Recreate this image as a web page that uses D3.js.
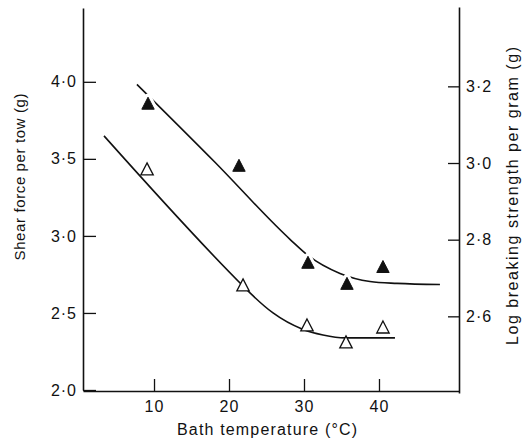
<!DOCTYPE html>
<html>
<head>
<meta charset="utf-8">
<script src="https://cdn.jsdelivr.net/npm/d3@7"></script>
<style>
  html, body { margin: 0; padding: 0; background: #fff; }
  svg { display: block; }
  text { font-family: "Liberation Sans", Arial, sans-serif; fill: #111; }
</style>
</head>
<body>
<svg id="chart" width="522" height="447"></svg>
<script>
// ---- data ----
const xTicks = [10, 20, 30, 40];
const leftTicks = [2.0, 2.5, 3.0, 3.5, 4.0];
const rightTicks = [2.6, 2.8, 3.0, 3.2];

// filled triangles (log breaking strength, right axis)
const filledX = [9.2, 21.33, 30.53, 35.73, 40.53];
const filledY = [3.156, 2.994, 2.741, 2.686, 2.730];

// open triangles (shear force, left axis)
const openX = [9.07, 21.87, 30.4, 35.6, 40.53];
const openY = [3.435, 2.682, 2.422, 2.312, 2.409];

// fitted curve for filled triangles (right axis)
const upperCurveX = [7.73, 18.13, 28.13, 30.53, 34.8, 38.8, 42.4, 48.13];
const upperCurveY = [3.205, 3.002, 2.801, 2.759, 2.712, 2.691, 2.686, 2.683];

// fitted curve for open triangles (left axis)
const lowerCurveX = [3.33, 21.87, 22.8, 25.87, 29.73, 32.53, 35.47, 42.13];
const lowerCurveY = [3.649, 2.675, 2.630, 2.500, 2.396, 2.357, 2.338, 2.338];

const xTitle = "Bath temperature (°C)";
const leftTitle = "Shear force per tow (g)";
const rightTitle = "Log breaking strength per gram (g)";

// ---- scales ----
const svg = d3.select("#chart");
const x = d3.scaleLinear().domain([0.53, 50.67]).range([83, 459]);
const yL = d3.scaleLinear().domain([2.0, 4.479]).range([390, 8]);
const yR = d3.scaleLinear().domain([2.4, 3.407]).range([393, 7]);

const fmt = v => d3.format(".1f")(v).replace(".", "·");

// ---- axes ----
const axL = svg.append("g").attr("transform", "translate(83,0)")
  .call(d3.axisLeft(yL).tickValues(leftTicks).tickFormat(fmt)
    .tickSizeInner(-13).tickSizeOuter(0).tickPadding(6));
const axR = svg.append("g").attr("transform", "translate(459,0)")
  .call(d3.axisRight(yR).tickValues(rightTicks).tickFormat(fmt)
    .tickSizeInner(-11).tickSizeOuter(0).tickPadding(7));
const axB = svg.append("g").attr("transform", "translate(0,391)")
  .call(d3.axisBottom(x).tickValues(xTicks).tickFormat(d3.format("d"))
    .tickSizeInner(-12).tickSizeOuter(0).tickPadding(10));

[axL, axR, axB].forEach(g => {
  g.select(".domain").attr("stroke", "#111").attr("stroke-width", 1.6);
  g.selectAll(".tick line").attr("stroke", "#111").attr("stroke-width", 1.3);
  g.selectAll(".tick text").attr("font-size", 16).attr("fill", "#111")
    .attr("font-family", "Liberation Sans, Arial, sans-serif")
    .attr("letter-spacing", 1);
});

// ---- titles ----
svg.append("text").attr("x", 267).attr("y", 435).attr("text-anchor", "middle")
  .attr("font-size", 16).attr("textLength", 180).text(xTitle);
svg.append("text").attr("transform", "translate(25,177) rotate(-90)")
  .attr("text-anchor", "middle").attr("font-size", 15).attr("textLength", 167)
  .text(leftTitle);
svg.append("text").attr("transform", "translate(518,196) rotate(-90)")
  .attr("text-anchor", "middle").attr("font-size", 16).attr("textLength", 298)
  .text(rightTitle);

// ---- curves ----
const lineR = d3.line().x(d => x(d[0])).y(d => yR(d[1])).curve(d3.curveMonotoneX);
const lineL = d3.line().x(d => x(d[0])).y(d => yL(d[1])).curve(d3.curveMonotoneX);
svg.append("path").attr("d", lineR(d3.zip(upperCurveX, upperCurveY)))
  .attr("fill", "none").attr("stroke", "#111").attr("stroke-width", 1.6);
svg.append("path").attr("d", lineL(d3.zip(lowerCurveX, lowerCurveY)))
  .attr("fill", "none").attr("stroke", "#111").attr("stroke-width", 1.6);

// ---- markers ----
const tri = "M0,-6L6.2,6L-6.2,6Z";
const filled = d3.zip(filledX, filledY);
svg.append("g").selectAll("path.halo").data(filled).join("path")
  .attr("class", "halo").attr("d", tri)
  .attr("transform", d => `translate(${x(d[0])},${yR(d[1])})`)
  .attr("fill", "#fff").attr("stroke", "#fff").attr("stroke-width", 7)
  .attr("stroke-linejoin", "round");
svg.append("g").selectAll("path").data(filled).join("path")
  .attr("d", tri)
  .attr("transform", d => `translate(${x(d[0])},${yR(d[1])})`)
  .attr("fill", "#111").attr("stroke", "#111").attr("stroke-width", 1);
svg.append("g").selectAll("path").data(d3.zip(openX, openY)).join("path")
  .attr("d", tri)
  .attr("transform", d => `translate(${x(d[0])},${yL(d[1])})`)
  .attr("fill", "#fff").attr("stroke", "#111").attr("stroke-width", 1.3);
</script>
</body>
</html>
